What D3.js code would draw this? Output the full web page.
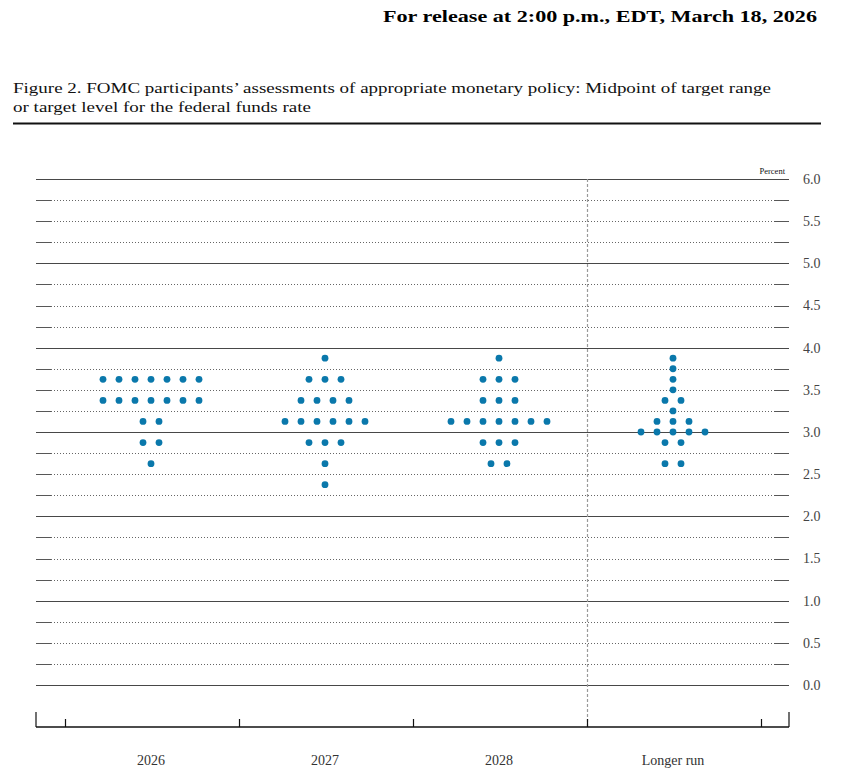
<!DOCTYPE html>
<html>
<head>
<meta charset="utf-8">
<script src="https://cdn.jsdelivr.net/npm/d3@7"></script>
<style>
  body { margin: 0; background: #fff; }
  svg { display: block; }
</style>
</head>
<body>
<svg id="chart" width="853" height="784"></svg>
<script>
// categories on the x axis
var categories = ["2026", "2027", "2028", "Longer run"];

// each category: rate levels (midpoints) and how many participants picked each one
var levels2026 = [3.625, 3.375, 3.125, 2.875, 2.625];
var counts2026 = [7, 7, 2, 2, 1];
var levels2027 = [3.875, 3.625, 3.375, 3.125, 2.875, 2.625, 2.375];
var counts2027 = [1, 3, 4, 6, 3, 1, 1];
var levels2028 = [3.875, 3.625, 3.375, 3.125, 2.875, 2.625];
var counts2028 = [1, 3, 3, 7, 3, 2];
var levelsLonger = [3.875, 3.75, 3.625, 3.5, 3.375, 3.25, 3.125, 3.0, 2.875, 2.625];
var countsLonger = [1, 1, 1, 1, 2, 1, 3, 5, 2, 2];

var yTickValues = [0, 0.5, 1, 1.5, 2, 2.5, 3, 3.5, 4, 4.5, 5, 5.5, 6];
var gridValues = d3.range(0, 6.001, 0.25);

var levelsByCat = [levels2026, levels2027, levels2028, levelsLonger];
var countsByCat = [counts2026, counts2027, counts2028, countsLonger];

var svg = d3.select("#chart");
var serif = "'Liberation Serif', 'DejaVu Serif', serif";

var left = 36, right = 789, axisY = 727;
var y = d3.scaleLinear().domain([0, 6]).range([685, 179]);
var x = d3.scaleBand().domain(categories).range([65, 761]);
var dotGap = 16;
var dotColor = "#0a78ab";

//header
svg.append("text").attr("x", 817).attr("y", 22).attr("text-anchor", "end")
  .attr("font-family", serif).attr("font-weight", "bold").attr("font-size", 17)
  .attr("textLength", 434).attr("lengthAdjust", "spacingAndGlyphs")
  .text("For release at 2:00 p.m., EDT, March 18, 2026");

svg.append("text").attr("x", 13).attr("y", 93)
  .attr("font-family", serif).attr("font-size", 15.5).attr("fill", "#111")
  .attr("textLength", 758).attr("lengthAdjust", "spacingAndGlyphs")
  .text("Figure 2. FOMC participants\u2019 assessments of appropriate monetary policy: Midpoint of target range");
svg.append("text").attr("x", 13).attr("y", 112)
  .attr("font-family", serif).attr("font-size", 15.5).attr("fill", "#111")
  .attr("textLength", 298).attr("lengthAdjust", "spacingAndGlyphs")
  .text("or target level for the federal funds rate");

svg.append("line").attr("x1", 13).attr("x2", 821).attr("y1", 123.5).attr("y2", 123.5)
  .attr("stroke", "#111").attr("stroke-width", 2.2);

//grid lines
var grid = svg.append("g");
gridValues.forEach(function(v) {
  var yy = Math.round(y(v)) + 0.5;
  var whole = Math.abs(v - Math.round(v)) < 1e-9;
  if (whole) {
    grid.append("line").attr("x1", left).attr("x2", right).attr("y1", yy).attr("y2", yy)
      .attr("stroke", "#333").attr("stroke-width", 0.9);
  } else {
    grid.append("line").attr("x1", left + 15).attr("x2", right - 15).attr("y1", yy).attr("y2", yy)
      .attr("stroke", "#555").attr("stroke-width", 0.9).attr("stroke-dasharray", "1,2");
    grid.append("line").attr("x1", left).attr("x2", left + 15).attr("y1", yy).attr("y2", yy)
      .attr("stroke", "#444").attr("stroke-width", 0.9);
    grid.append("line").attr("x1", right - 15).attr("x2", right).attr("y1", yy).attr("y2", yy)
      .attr("stroke", "#444").attr("stroke-width", 0.9);
  }
});

svg.append("text").attr("x", 785).attr("y", 174).attr("text-anchor", "end")
  .attr("font-family", serif).attr("font-size", 8.5).attr("fill", "#111").text("Percent");

//right axis labels
var yAxis = svg.append("g").attr("transform", "translate(803,0)")
  .call(d3.axisRight(y).tickValues(yTickValues).tickFormat(d3.format(".1f")).tickSize(0));
yAxis.select(".domain").remove();
yAxis.selectAll("text").attr("x", 0).attr("font-family", serif).attr("font-size", 14)
  .attr("fill", "#444").attr("text-anchor", "start");

//vertical divider before longer run
var divX = x("Longer run") + 0.5;
svg.append("line").attr("x1", divX).attr("x2", divX).attr("y1", y(6)).attr("y2", axisY)
  .attr("stroke", "#999").attr("stroke-width", 1.2).attr("stroke-dasharray", "3,2");

//bottom axis
var xb = svg.append("g");
xb.append("line").attr("x1", left).attr("x2", right).attr("y1", axisY).attr("y2", axisY)
  .attr("stroke", "#111").attr("stroke-width", 1.4);
[left, right].forEach(function(px) {
  xb.append("line").attr("x1", px).attr("x2", px).attr("y1", axisY - 15).attr("y2", axisY)
    .attr("stroke", "#111").attr("stroke-width", 1.2);
});
categories.concat(["end"]).forEach(function(c, i) {
  var px = i < categories.length ? x(c) : x.range()[1];
  xb.append("line").attr("x1", px + 0.5).attr("x2", px + 0.5).attr("y1", axisY - 8).attr("y2", axisY)
    .attr("stroke", "#111").attr("stroke-width", 1.2);
});
categories.forEach(function(c) {
  xb.append("text").attr("x", x(c) + x.bandwidth() / 2 - 1).attr("y", 765)
    .attr("text-anchor", "middle").attr("font-family", serif).attr("font-size", 14)
    .attr("fill", "#333").text(c);
});

//dots
var dots = [];
categories.forEach(function(c, ci) {
  levelsByCat[ci].forEach(function(lv, li) {
    var n = countsByCat[ci][li];
    for (var k = 0; k < n; k++) {
      dots.push({cat: c, rate: lv, offset: (k - (n - 1) / 2) * dotGap});
    }
  });
});

svg.append("g").selectAll("circle").data(dots).enter().append("circle")
  .attr("cx", function(d) { return x(d.cat) + x.bandwidth() / 2 - 1 + d.offset; })
  .attr("cy", function(d) { return y(d.rate); })
  .attr("r", 3.4)
  .attr("fill", dotColor);
</script>
</body>
</html>
